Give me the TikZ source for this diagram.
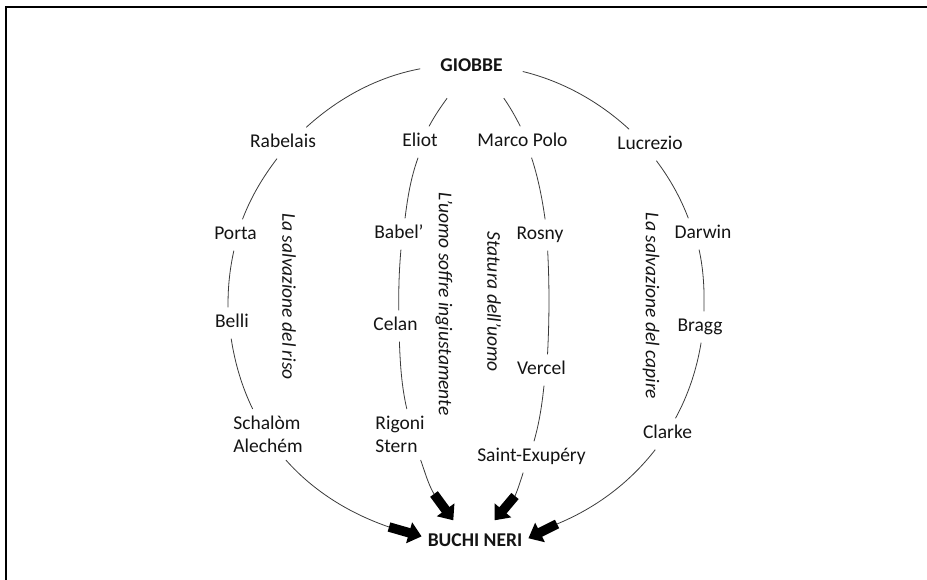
\documentclass[tikz,border=0pt]{standalone}
\usepackage{fontspec}
\setmainfont{Carlito}
\usetikzlibrary{arrows.meta}
\definecolor{txt}{HTML}{141414}
\definecolor{ln}{HTML}{3A3A3A}
\tikzset{
  nm/.style={font=\fontsize{19.5}{23}\selectfont, text=txt, inner xsep=5pt, inner ysep=7pt, text height=13pt, text depth=4pt},
  nmtwo/.style={font=\fontsize{19.5}{23}\selectfont, text=txt, inner xsep=5pt, inner ysep=7pt, align=left},
  ttl/.style={font=\fontsize{19.5}{23}\selectfont\bfseries, text=txt, text height=13pt, text depth=4pt},
  theme/.style={font=\fontsize{19.5}{23}\selectfont\itshape, text=txt, rotate=-90, inner sep=0pt},
  conn/.style={draw=ln, line width=0.8pt, looseness=0.87},
  blockarrow/.style={draw=black, line width=9.5pt, -{Triangle[width=21pt,length=13pt]}},
}
\begin{document}
\begin{tikzpicture}[x=1pt,y=1pt]
\useasboundingbox (0,0) rectangle (927,-580);
% frame (top and left only)
\draw[line width=1.7pt] (6,-580) -- (6,-7) -- (927,-7);

% nodes
\node[ttl, inner xsep=20pt, inner ysep=22.5pt] (giobbe) at (471.5,-67) {GIOBBE};
\node[ttl, inner xsep=6pt, inner ysep=13pt] (buchi) at (475,-542) {BUCHI NERI};

\node[nm] (rabelais) at (283,-143) {Rabelais};
\node[nm] (porta)    at (235.5,-235) {Porta};
\node[nm] (belli)    at (232,-323) {Belli};
\node[nmtwo] (schalom) at (268,-434.5) {Schalòm\\Alechém};

\node[nm] (eliot)    at (420,-142) {Eliot};
\node[nm] (babel)    at (399,-234) {Babel’};
\node[nm] (celan)    at (395.5,-326) {Celan};
\node[nmtwo] (rigoni)  at (400,-434.5) {Rigoni\\Stern};

\node[nm] (marco)    at (522.5,-142) {Marco Polo};
\node[nm] (rosny)    at (540,-235) {Rosny};
\node[nm] (vercel)   at (541.5,-370) {Vercel};
\node[nm] (saint)    at (531.5,-457) {Saint-Exupéry};

\node[nm] (lucrezio) at (650,-145) {Lucrezio};
\node[nm] (darwin)   at (703,-234) {Darwin};
\node[nm] (bragg)    at (700,-327) {Bragg};
\node[nm] (clarke)   at (667.5,-434) {Clarke};

% rotated theme labels
\node[theme] (riso)    at (289,-296.5) {La salvazione del riso};
\node[theme] (uomo)    at (444,-304) {L’uomo soffre ingiustamente};
\node[theme] (statura) at (494,-301.5) {Statura dell’uomo};
\node[theme] (capire)  at (651,-306) {La salvazione del capire};

% arrow start points
\coordinate (a1) at (389,-527);
\coordinate (a2) at (434,-494);
\coordinate (a3) at (515,-496);
\coordinate (a4) at (557,-524);

% outer left
\draw[conn] (giobbe.182.3) to[out=190.6,in=42.3] (rabelais.34.8);
\draw[conn] (rabelais.-111.8) to[out=232.5,in=69.1] (porta.66.2);
\draw[conn] (porta.-96.7) to[out=257.6,in=91] (belli.104);
\draw[conn] (belli.-93.4) to[out=278.9,in=115.8] (schalom.121.7);
\draw[conn] (schalom.-55.4) to[out=311.6,in=161] (a1);
% outer right
\draw[conn] (giobbe.-5.5) to[out=-13.9,in=137.4] (lucrezio.143.5);
\draw[conn] (lucrezio.-68.2) to[out=-53,in=111] (darwin.133.2);
\draw[conn] (darwin.-104) to[out=-77.6,in=88.3] (bragg.76.8);
\draw[conn] (bragg.-86.2) to[out=-99.4,in=61.5] (clarke.63.4);
\draw[conn] (clarke.-128) to[out=-127.9,in=22.4] (a4);
% inner left
\draw[conn] (giobbe.-128.6) to[out=234,in=62] (eliot.60.6);
\draw[conn] (eliot.-97.6) to[out=250,in=83] (babel.69.4);
\draw[conn] (babel.-83.7) to[out=265,in=91] (celan.78.4);
\draw[conn] (celan.-76.9) to[out=272,in=103] (rigoni.75.7);
\draw[conn] (rigoni.-51.9) to[out=290,in=120] (a2);
% inner right
\draw[conn] (giobbe.-44.5) to[out=305,in=117] (marco.98.9);
\draw[conn] (marco.-60.5) to[out=288,in=98] (rosny.72.6);
\draw[conn] (rosny.-64.8) to[out=273,in=87] (vercel.69.1);
\draw[conn] (vercel.-81.6) to[out=264,in=74] (saint.81.6);
\draw[conn] (saint.-118) to[out=252,in=67] (a3);

% block arrows
\draw[blockarrow] (a1) -- (buchi.174.7);
\draw[blockarrow] (a2) -- (buchi.135);
\draw[blockarrow] (a3) -- (buchi.48);
\draw[blockarrow] (a4) -- (buchi.4.3);
\end{tikzpicture}
\end{document}
